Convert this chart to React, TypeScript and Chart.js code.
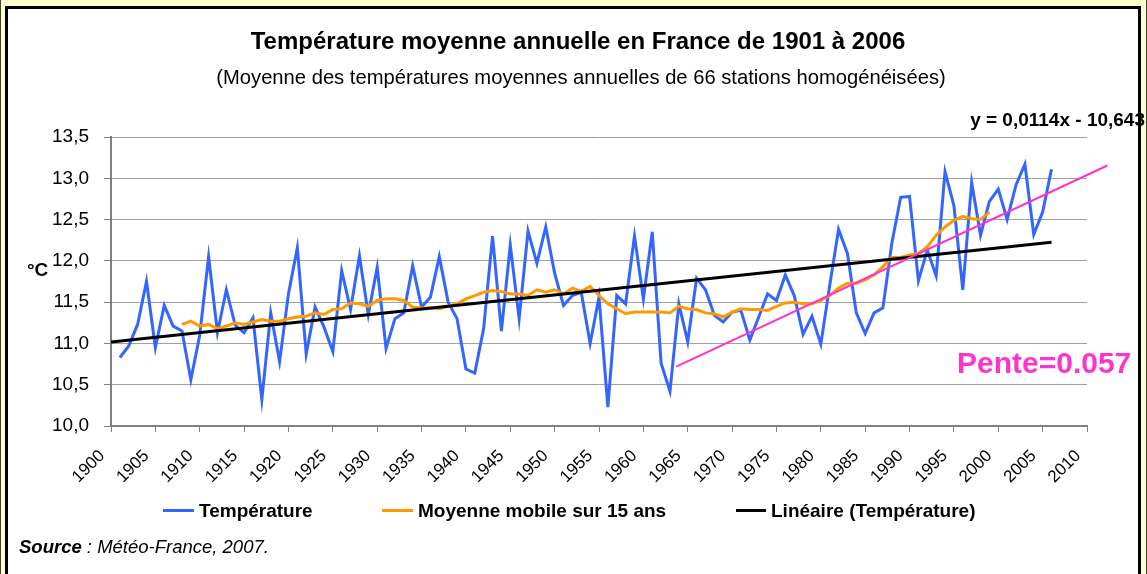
import React, { useEffect, useRef } from "react";
import { Chart, registerables } from "chart.js";

Chart.register(...registerables);

// ---------- DATA ----------
const YEARS: number[] = Array.from({ length: 106 }, (_, i) => 1901 + i);

const TEMPERATURE: number[] = [
  10.83, 10.97, 11.23, 11.75, 10.95, 11.46, 11.21, 11.15, 10.56, 11.1,
  12.05, 11.13, 11.65, 11.22, 11.13, 11.31, 10.32, 11.37, 10.78, 11.6,
  12.16, 10.87, 11.44, 11.2, 10.9, 11.88, 11.41, 12.06, 11.35, 11.92,
  10.94, 11.3, 11.37, 11.94, 11.44, 11.56, 12.05, 11.5, 11.3, 10.69,
  10.64, 11.18, 12.3, 11.15, 12.19, 11.3, 12.36, 11.97, 12.41, 11.85,
  11.46, 11.58, 11.62, 11.0, 11.56, 10.23, 11.58, 11.48, 12.3, 11.54,
  12.35, 10.76, 10.42, 11.48, 11.02, 11.79, 11.65, 11.34, 11.26, 11.38,
  11.4, 11.04, 11.32, 11.6, 11.52, 11.83, 11.58, 11.11, 11.33, 10.99,
  11.7, 12.38, 12.09, 11.37, 11.12, 11.37, 11.43, 12.21, 12.77, 12.78,
  11.76, 12.13, 11.82, 13.08, 12.67, 11.65, 12.95, 12.31, 12.72, 12.87,
  12.5, 12.92, 13.17, 12.32, 12.59, 13.11,
];

const MA_YEARS: number[] = Array.from({ length: 92 }, (_, i) => 1908 + i);

const MOVING_AVG: number[] = [
  11.23, 11.27, 11.21, 11.23, 11.18, 11.21, 11.25, 11.23, 11.26, 11.29,
  11.27, 11.27, 11.3, 11.32, 11.33, 11.37, 11.35, 11.41, 11.42, 11.49,
  11.48, 11.45, 11.52, 11.54, 11.54, 11.52, 11.44, 11.43, 11.43, 11.42,
  11.45, 11.48, 11.54, 11.58, 11.62, 11.64, 11.63, 11.6, 11.6, 11.58,
  11.65, 11.62, 11.65, 11.6, 11.67, 11.63, 11.69, 11.58, 11.48, 11.42,
  11.36, 11.38, 11.38, 11.38, 11.38, 11.37, 11.45, 11.42, 11.41, 11.37,
  11.36, 11.32, 11.38, 11.42, 11.41, 11.41, 11.4, 11.45, 11.49, 11.5,
  11.48, 11.48, 11.52, 11.58, 11.67, 11.73, 11.73, 11.77, 11.83, 11.93,
  12.04, 12.04, 12.07, 12.09, 12.17, 12.31, 12.41, 12.49, 12.54, 12.51,
  12.5, 12.59,
];

const TREND_YEARS: number[] = [1900, 2006];
const TREND_VALUES: number[] = [11.017, 12.225];

const PENTE_YEARS: number[] = [1963.7, 2012.3];
const PENTE_VALUES: number[] = [10.72, 13.155];

const X_MIN = 1900;
const X_MAX = 2010;
const X_STEP = 5;
const Y_MIN = 10;
const Y_MAX = 13.5;
const Y_STEP = 0.5;

const TITLE = "Température moyenne annuelle en France de 1901 à 2006";
const SUBTITLE =
  "(Moyenne des températures moyennes annuelles de 66 stations homogénéisées)";
const EQUATION = "y = 0,0114x - 10,643";
const PENTE_LABEL = "Pente=0.057";
const Y_TITLE = "°C";
const LEGEND_LABELS = [
  "Température",
  "Moyenne mobile sur 15 ans",
  "Linéaire (Température)",
];

// ---------- STYLE ----------
const FONT = '"Liberation Sans", Arial, Helvetica, sans-serif';
const BLUE = "#3366FF";
const ORANGE = "#FF9900";
const BLACK = "#000000";
const PINK = "#FF33CC";

const W = 1147;
const H = 574;

function Txt(props: {
  x: number;
  baseline: number;
  size: number;
  bold?: boolean;
  italic?: boolean;
  color?: string;
  align?: "left" | "center" | "right";
  children: React.ReactNode;
}) {
  const { x, baseline, size, bold, italic, color, align = "left", children } = props;
  const top = baseline - size * 0.8465;
  const tx = align === "center" ? "translateX(-50%)" : align === "right" ? "translateX(-100%)" : "none";
  return (
    <div
      style={{
        position: "absolute",
        left: x,
        top,
        fontFamily: FONT,
        fontSize: size,
        lineHeight: `${size}px`,
        fontWeight: bold ? "bold" : "normal",
        fontStyle: italic ? "italic" : "normal",
        color: color || "#000",
        whiteSpace: "nowrap",
        transform: tx,
      }}
    >
      {children}
    </div>
  );
}

export default function App() {
  const canvasRef = useRef<HTMLCanvasElement | null>(null);

  useEffect(() => {
    const canvas = canvasRef.current;
    if (!canvas) return;
    const chart = new Chart(canvas, {
      type: "line",
      data: {
        datasets: [
          {
            label: LEGEND_LABELS[0],
            data: YEARS.map((x, i) => ({ x, y: TEMPERATURE[i] })),
            borderColor: BLUE,
            backgroundColor: BLUE,
            borderWidth: 3,
            pointRadius: 0,
            tension: 0,
            order: 4,
          },
          {
            label: LEGEND_LABELS[1],
            data: MA_YEARS.map((x, i) => ({ x, y: MOVING_AVG[i] })),
            borderColor: ORANGE,
            backgroundColor: ORANGE,
            borderWidth: 3,
            pointRadius: 0,
            tension: 0,
            order: 3,
          },
          {
            label: LEGEND_LABELS[2],
            data: TREND_YEARS.map((x, i) => ({ x, y: TREND_VALUES[i] })),
            borderColor: BLACK,
            backgroundColor: BLACK,
            borderWidth: 3,
            pointRadius: 0,
            tension: 0,
            order: 2,
          },
          {
            label: "Pente",
            data: PENTE_YEARS.map((x, i) => ({ x, y: PENTE_VALUES[i] })),
            borderColor: PINK,
            backgroundColor: PINK,
            borderWidth: 2,
            pointRadius: 0,
            tension: 0,
            order: 1,
            clip: false as any,
          },
        ],
      },
      options: {
        animation: false,
        responsive: false,
        maintainAspectRatio: false,
        devicePixelRatio: 1,
        layout: { padding: { left: 51, right: 60, top: 137, bottom: 88 } },
        plugins: {
          legend: { display: false },
          title: { display: false },
          tooltip: { enabled: false },
        },
        scales: {
          x: {
            type: "linear",
            min: X_MIN,
            max: X_MAX,
            afterFit: (s: any) => {
              s.height = 60;
            },
            ticks: {
              stepSize: X_STEP,
              autoSkip: false,
              minRotation: 45,
              maxRotation: 45,
              padding: 14,
              labelOffset: -9,
              color: "#000",
              font: { family: FONT, size: 17 },
              callback: (v: any) => String(v),
            },
            grid: {
              drawOnChartArea: false,
              drawTicks: true,
              tickLength: 6,
              tickColor: "#808080",
              lineWidth: 1,
            },
            border: { color: "#808080", width: 2 },
          },
          y: {
            type: "linear",
            min: Y_MIN,
            max: Y_MAX,
            afterFit: (s: any) => {
              s.width = 60;
            },
            ticks: {
              stepSize: Y_STEP,
              padding: 15,
              color: "#000",
              font: { family: FONT, size: 19 },
              callback: (v: any) => Number(v).toFixed(1).replace(".", ","),
            },
            grid: {
              color: "#A0A0A0",
              tickColor: "#808080",
              tickLength: 7,
              lineWidth: 1,
            },
            border: { color: "#808080", width: 2 },
          },
        },
      } as any,
    });
    return () => chart.destroy();
  }, []);

  const legendLine = (left: number, width: number, color: string) => (
    <div
      style={{
        position: "absolute",
        left,
        top: 509,
        width,
        height: 3,
        background: color,
      }}
    />
  );

  return (
    <div
      style={{
        position: "fixed",
        left: 0,
        top: 0,
        width: W,
        height: H,
        overflow: "hidden",
        background: "#FFFFCC",
      }}
    >
      <div style={{ position: "absolute", left: 0, top: 0, width: 1, height: H, background: "#404040" }} />
      <div style={{ position: "absolute", left: W - 1, top: 0, width: 1, height: H, background: "#404040" }} />
      <div
        style={{
          position: "absolute",
          left: 5,
          top: 6,
          width: 1136,
          height: 620,
          boxSizing: "border-box",
          border: "3px solid #000",
          background: "#FFFFFF",
        }}
      />
      <canvas
        ref={canvasRef}
        width={W}
        height={H}
        style={{ position: "absolute", left: 0, top: 0, width: W, height: H }}
      />
      <Txt x={578} baseline={49} size={24} bold align="center">
        {TITLE}
      </Txt>
      <Txt x={581} baseline={84} size={20.2} align="center">
        {SUBTITLE}
      </Txt>
      <Txt x={1145} baseline={126} size={19} bold align="right">
        {EQUATION}
      </Txt>
      <Txt x={957} baseline={373} size={30} bold color={PINK}>
        {PENTE_LABEL}
      </Txt>
      <Txt x={27} baseline={276} size={19} bold>
        {Y_TITLE}
      </Txt>

      {legendLine(163, 31, BLUE)}
      <Txt x={199} baseline={517} size={19} bold>
        {LEGEND_LABELS[0]}
      </Txt>
      {legendLine(382, 31, ORANGE)}
      <Txt x={418} baseline={517} size={19} bold>
        {LEGEND_LABELS[1]}
      </Txt>
      {legendLine(736, 30, BLACK)}
      <Txt x={771} baseline={517} size={19} bold>
        {LEGEND_LABELS[2]}
      </Txt>

      <Txt x={19} baseline={554} size={18.5} italic>
        <span style={{ fontWeight: "bold" }}>Source</span>
        {" : Météo-France, 2007."}
      </Txt>
    </div>
  );
}
